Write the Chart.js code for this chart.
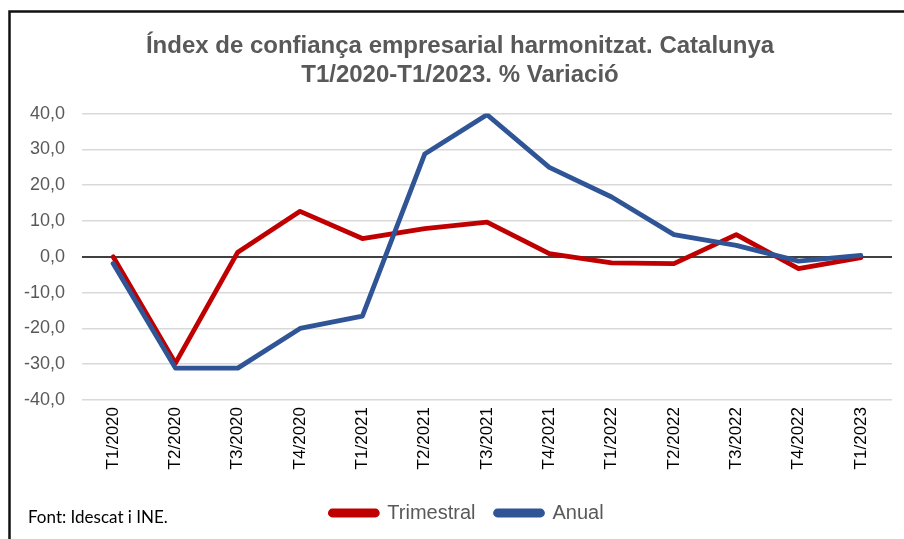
<!DOCTYPE html>
<html>
<head>
<meta charset="utf-8">
<script src="https://cdn.jsdelivr.net/npm/chart.js@4/dist/chart.umd.min.js"></script>
<style>
  html, body { margin: 0; padding: 0; background: #ffffff; }
  #wrap { width: 904px; height: 539px; }
</style>
</head>
<body>
<div id="wrap"><canvas id="c" width="904" height="539"></canvas></div>
<script>
// ---- data ----
const categories = ["T1/2020","T2/2020","T3/2020","T4/2020","T1/2021","T2/2021","T3/2021","T4/2021","T1/2022","T2/2022","T3/2022","T4/2022","T1/2023"];
const trimestral = [0.0, -29.7, 1.3, 12.7, 5.1, 7.9, 9.7, 0.9, -1.7, -1.9, 6.2, -3.3, -0.2];
const anual = [-1.9, -31.1, -31.1, -20.0, -16.6, 28.7, 39.7, 25.0, 16.7, 6.2, 3.2, -1.2, 0.4];
const yTicks = [-40, -30, -20, -10, 0, 10, 20, 30, 40];
const titleLines = ["Índex de confiança empresarial harmonitzat. Catalunya", "T1/2020-T1/2023. % Variació"];
const sourceNote = "Font: Idescat i INE.";

const framePlugin = {
  id: 'frame',
  afterLayout(chart) {
    // centre the title and legend on the framed box rather than the canvas
    if (chart.titleBlock) { chart.titleBlock.left = 28; }
    if (chart.legend) { chart.legend.left = 42; }
  },
  beforeDraw(chart) {
    const ctx = chart.ctx;
    ctx.save();
    ctx.fillStyle = '#ffffff';
    ctx.fillRect(0, 0, chart.width, chart.height);
    ctx.strokeStyle = '#111111';
    ctx.lineWidth = 2.5;
    ctx.beginPath();
    ctx.moveTo(9.5, chart.height + 5);
    ctx.lineTo(9.5, 11.5);
    ctx.lineTo(chart.width + 5, 11.5);
    ctx.stroke();
    ctx.restore();
  },
  afterDraw(chart) {
    const ctx = chart.ctx;
    ctx.save();
    ctx.fillStyle = '#000000';
    ctx.font = '17px Lato';
    ctx.textAlign = 'left';
    ctx.textBaseline = 'alphabetic';
    ctx.fillText(sourceNote, 28, 523);
    ctx.restore();
  }
};

new Chart(document.getElementById('c'), {
  type: 'line',
  data: {
    labels: categories,
    datasets: [
      {
        label: 'Trimestral',
        data: trimestral,
        borderColor: '#C00000',
        backgroundColor: '#C00000',
        borderWidth: 4.8,
        pointRadius: 0,
        tension: 0,
        borderJoinStyle: 'round',
        borderCapStyle: 'round',
        order: 1
      },
      {
        label: 'Anual',
        data: anual,
        borderColor: '#2F5597',
        backgroundColor: '#2F5597',
        borderWidth: 4.8,
        pointRadius: 0,
        tension: 0,
        borderJoinStyle: 'round',
        borderCapStyle: 'round',
        order: 0
      }
    ]
  },
  options: {
    responsive: false,
    animation: false,
    devicePixelRatio: 1,
    layout: { padding: { left: 14, right: 12, top: 0, bottom: 6 } },
    plugins: {
      title: {
        display: true,
        text: titleLines,
        color: '#595959',
        font: { family: 'Liberation Sans, Arial, sans-serif', size: 24, weight: 'bold', lineHeight: 1.2 },
        padding: { top: 32, bottom: 24 }
      },
      legend: {
        display: true,
        position: 'bottom',
        labels: {
          sort: (a, b) => a.datasetIndex - b.datasetIndex,
          boxWidth: 47,
          boxHeight: 4,
          useBorderRadius: true,
          borderRadius: 2,
          padding: 20,
          color: '#595959',
          font: { family: 'Liberation Sans, Arial, sans-serif', size: 20 }
        }
      },
      tooltip: { enabled: false }
    },
    scales: {
      x: {
        offset: true,
        grid: { display: false, drawTicks: false },
        border: { display: false },
        ticks: {
          color: '#000000',
          font: { family: 'Liberation Sans, Arial, sans-serif', size: 17 },
          minRotation: 90,
          maxRotation: 90,
          padding: 7,
          autoSkip: false
        },
        afterFit(scale) { scale.height = 83; }
      },
      y: {
        min: -40,
        max: 40,
        afterBuildTicks(scale) { scale.ticks = yTicks.map(v => ({ value: v })); },
        grid: {
          drawTicks: false,
          color: (c) => (c.tick && c.tick.value === 0) ? '#404040' : '#D9D9D9',
          lineWidth: (c) => (c.tick && c.tick.value === 0) ? 2 : 1.5
        },
        border: { display: false },
        ticks: {
          color: '#595959',
          font: { family: 'Liberation Sans, Arial, sans-serif', size: 18 },
          padding: 17,
          callback: (v) => Number(v).toFixed(1).replace('.', ',')
        },
        afterFit(scale) { scale.width = 68; }
      }
    }
  },
  plugins: [framePlugin]
});
</script>
</body>
</html>
